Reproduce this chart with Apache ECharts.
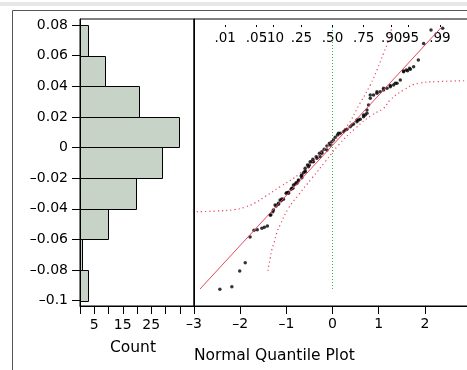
<!DOCTYPE html>
<html>
<head>
<meta charset="utf-8">
<script src="https://cdn.jsdelivr.net/npm/echarts@6/dist/echarts.min.js"></script>
<style>
  html, body { margin: 0; padding: 0; background: #fff; overflow: hidden; }
  #chart { width: 467px; height: 370px; }
</style>
</head>
<body>
<div id="chart"></div>
<script>
// histogram bins (sample value ranges) and their counts
const binLow = [-0.1, -0.08, -0.06, -0.04, -0.02, 0, 0.02, 0.04, 0.06];
const binHigh = [-0.08, -0.06, -0.04, -0.02, 0, 0.02, 0.04, 0.06, 0.08];
const binCounts = [3, 1, 10, 20, 29, 35, 21, 9, 3];

// shared value axis ticks
const yTicks = [-0.1, -0.08, -0.06, -0.04, -0.02, 0, 0.02, 0.04, 0.06, 0.08];
const countLabels = [5, 15, 25];

// top probability scale of the quantile plot
const probPos = [-2.326, -1.645, -1.2816, -0.674, 0, 0.674, 1.2816, 1.645, 2.326];
const probLabels = [".01", ".05", ".10", ".25", ".50", ".75", ".90", ".95", ".99"];

// quantile plot points: normal quantile (x) and sample value (y)
const qqX = [-2.44, -2.18, -2.01, -1.89, -1.785, -1.70, -1.63, -1.53, -1.475, -1.41,
  -1.351, -1.293, -1.221, -1.171, -1.113, -1.063, -1.004, -0.954, -0.896, -0.846,
  -0.787, -0.738, -0.679, -0.629, -0.592, -0.592, -0.542, -0.484, -0.425, -0.354,
  -0.282, -0.230, -0.180, -0.121, -0.065, -0.013, 0.022, 0.059, 0.108, 0.167,
  0.239, 0.312, 0.384, 0.456, 0.529, 0.601, 0.672, 0.746,
  0.781, 0.818, 0.889, 0.963, 1.035, 1.106, 1.180, 1.252, 1.323, 1.397,
  1.469, 1.540, 1.599, 1.670, 1.757, 1.859, 1.974, 2.134, 2.386,
  -1.243, -1.135, -0.989, -0.881, -0.809, -0.738, -0.664, -0.521, -0.447, -0.338,
  -0.230, -0.121, -0.050, 0.130, 0.275, 0.421, 0.564, 0.709,
  0.818, 0.963, 1.106, 1.252, 1.360, 1.540, 1.627, 1.685, 0.529, 0.672, 0.746,
  -1.336, -1.280, -1.171, -1.098, -0.954, -0.859, -0.772, -0.664, -0.592, -0.499, -0.412, -0.267];
const qqY = [-0.0926, -0.0909, -0.0806, -0.0752, -0.0584, -0.0541, -0.0537, -0.0528, -0.0521, -0.0513,
  -0.0441, -0.0419, -0.0382, -0.0371, -0.0347, -0.0338, -0.0299, -0.0293, -0.0273, -0.0245,
  -0.0230, -0.0212, -0.0186, -0.0165, -0.0153, -0.0136, -0.0114, -0.0093, -0.0077, -0.0060,
  -0.0038, -0.0027, -0.0012, 0.0010, 0.0027, 0.0038, 0.0049, 0.0067, 0.0082, 0.0093,
  0.0103, 0.0119, 0.0136, 0.0153, 0.0168, 0.0184, 0.0201, 0.0223,
  0.0278, 0.0321, 0.0343, 0.0354, 0.0364, 0.0375, 0.0387, 0.0397, 0.0408, 0.0419,
  0.0441, 0.0500, 0.0506, 0.0517, 0.0528, 0.0571, 0.0679, 0.0767, 0.0778,
  -0.0375, -0.0343, -0.0295, -0.0266, -0.0240, -0.0219, -0.0180, -0.0125, -0.0093, -0.0071,
  -0.0038, -0.0016, 0.0016, 0.0093, 0.0114, 0.0147, 0.0180, 0.0212,
  0.0343, 0.0364, 0.0387, 0.0404, 0.0419, 0.0495, 0.0501, 0.0511, 0.0180, 0.0212, 0.0245,
  -0.0441, -0.0408, -0.0364, -0.0336, -0.0299, -0.0266, -0.0234, -0.0197, -0.0158, -0.0114, -0.0093, -0.0060];

// fitted normal line end points
const fitX = [-2.87, 2.35];
const fitY = [-0.0924, 0.0782];

// confidence band curves
const upperX = [-2.94, -2.51, -2.11, -1.89, -1.68, -1.46, -1.135, -0.70, -0.23, 0.275, 0.60, 0.818, 0.963, 1.106, 1.215, 1.289];
const upperY = [-0.0419, -0.0415, -0.0405, -0.0389, -0.0362, -0.0320, -0.0256, -0.0168, -0.0027, 0.0125, 0.0291, 0.0408, 0.0506, 0.0615, 0.0702, 0.0789];
const lowerX = [-1.40, -1.35, -1.315, -1.26, -1.21, -1.135, -0.954, -0.738, -0.447, -0.158, 0.130, 0.492, 0.855, 1.106, 1.25, 1.54, 1.866, 2.265, 2.915];
const lowerY = [-0.0806, -0.0723, -0.0669, -0.0615, -0.0560, -0.0506, -0.0397, -0.0310, -0.0201, -0.0093, 0.0016, 0.0125, 0.0212, 0.0256, 0.0310, 0.0375, 0.0419, 0.0430, 0.0436];

// median reference line
const midY = [-0.0924, 0.0789];

const yMin = -0.1035;
const yMax = 0.0839;
const font = "DejaVu Sans";
const red = "#ea4560";

const pairs = (xs, ys) => xs.map((x, i) => [x, ys[i]]);
const dash = (s) => String(s).replace("-", "\u2013");

const chart = echarts.init(document.getElementById("chart"), null, { renderer: "canvas" });

const axisLine = { show: true, onZero: false, lineStyle: { color: "#000", width: 1 } };

chart.setOption({
  animation: false,
  textStyle: { fontFamily: font },
  grid: [
    { left: 80, top: 19, width: 114, height: 287, show: true, borderColor: "#000", borderWidth: 1, outerBoundsMode: "none", containLabel: false },
    { left: 194, top: 19, width: 277, height: 287, show: true, borderColor: "#000", borderWidth: 1, outerBoundsMode: "none", containLabel: false },
  ],
  xAxis: [
    {
      gridIndex: 0, type: "value", min: 0, max: 40, interval: 5,
      axisLine, splitLine: { show: false },
      axisTick: { length: 8, lineStyle: { color: "#000" } },
      axisLabel: {
        color: "#000", fontSize: 14, margin: 12,
        formatter: (v) => (countLabels.includes(v) ? String(v) : ""),
      },
    },
    {
      gridIndex: 1, type: "value", min: -3, max: 3, interval: 1,
      axisLine, splitLine: { show: false },
      axisTick: { length: 8, lineStyle: { color: "#000" } },
      axisLabel: { color: "#000", fontSize: 14, margin: 11, formatter: (v) => dash(v) },
    },
    {
      gridIndex: 1, type: "value", min: -3, max: 3, position: "top", offset: -8,
      axisLine: { show: false, onZero: false }, splitLine: { show: false },
      axisTick: { show: true, length: 2, customValues: probPos, lineStyle: { color: "#000" } },
      axisLabel: {
        inside: true, margin: 4, color: "#000", fontSize: 13.5,
        customValues: probPos,
        formatter: (v) => {
          let best = 0;
          probPos.forEach((p, i) => { if (Math.abs(p - v) < Math.abs(probPos[best] - v)) best = i; });
          return probLabels[best];
        },
      },
    },
  ],
  yAxis: [
    {
      gridIndex: 0, type: "value", min: yMin, max: yMax,
      axisLine, splitLine: { show: false },
      axisTick: { length: 8, customValues: yTicks, lineStyle: { color: "#000" } },
      axisLabel: {
        color: "#000", fontSize: 14, margin: 12,
        customValues: yTicks,
        formatter: (v) => dash(parseFloat(v.toFixed(2))),
      },
    },
    {
      gridIndex: 1, type: "value", min: yMin, max: yMax,
      axisLine, splitLine: { show: false },
      axisTick: { show: false }, axisLabel: { show: false },
    },
  ],
  graphic: [
    { type: "rect", shape: { x: 0, y: 2, width: 467, height: 4 }, style: { fill: "#e6e6e6" }, silent: true },
    { type: "polyline", shape: { points: [[12.5, 400], [12.5, 10.5], [480, 10.5]] }, style: { fill: null, stroke: "#555", lineWidth: 1 }, silent: true },
    { type: "text", style: { x: 133, y: 348, text: "Count", align: "center", verticalAlign: "middle", fontFamily: font, fontSize: 15.5, fill: "#000" } },
    { type: "text", style: { x: 194, y: 356, text: "Normal Quantile Plot", align: "left", verticalAlign: "middle", fontFamily: font, fontSize: 15.5, fill: "#000" } },
  ],
  series: [
    {
      type: "custom",
      xAxisIndex: 0, yAxisIndex: 0,
      data: binLow.map((lo, i) => [lo, binHigh[i], binCounts[i]]),
      encode: { x: 2, y: [0, 1] },
      renderItem: (params, api) => {
        const a = api.coord([0, api.value(1)]);
        const b = api.coord([api.value(2), api.value(0)]);
        const x = Math.round(a[0]) + 0.5, y = Math.round(a[1]) + 0.5;
        return {
          type: "rect",
          shape: { x, y, width: Math.round(b[0]) - Math.round(a[0]) - 1, height: Math.round(b[1]) - Math.round(a[1]) },
          style: { fill: "#c8d3c7", stroke: "#000", lineWidth: 1 },
        };
      },
    },
    {
      type: "line", xAxisIndex: 1, yAxisIndex: 1, symbol: "none", silent: true,
      data: pairs([0, 0], midY),
      lineStyle: { color: "#2fb54a", width: 1, type: [1, 2] },
    },
    {
      type: "line", xAxisIndex: 1, yAxisIndex: 1, symbol: "none", smooth: true, silent: true,
      data: pairs(upperX, upperY),
      lineStyle: { color: red, width: 1.2, type: [1.2, 3] },
    },
    {
      type: "line", xAxisIndex: 1, yAxisIndex: 1, symbol: "none", smooth: true, silent: true,
      data: pairs(lowerX, lowerY),
      lineStyle: { color: red, width: 1.2, type: [1.2, 3] },
    },
    {
      type: "line", xAxisIndex: 1, yAxisIndex: 1, symbol: "none", silent: true,
      data: pairs(fitX, fitY),
      lineStyle: { color: red, width: 1 },
    },
    {
      type: "scatter", xAxisIndex: 1, yAxisIndex: 1, silent: true,
      data: pairs(qqX, qqY),
      symbolSize: 3.5,
      itemStyle: { color: "#000" },
    },
  ],
});
</script>
</body>
</html>
